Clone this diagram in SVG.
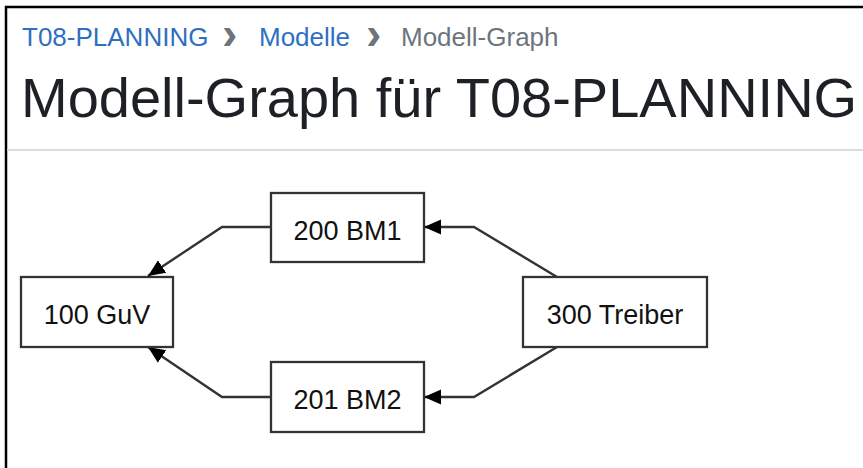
<svg xmlns="http://www.w3.org/2000/svg" width="863" height="468" viewBox="0 0 863 468">
<style>
.node rect{fill:#fff;stroke:#333;stroke-width:2.3}
.node text{font-family:"Liberation Sans",Arial,sans-serif;font-size:27px;fill:#111;text-anchor:middle}
.edge{fill:none;stroke:#333;stroke-width:2.4;marker-end:url(#arr)}
.crumb{font-family:"Liberation Sans",Arial,sans-serif;font-size:26px}
.sep{font-family:"Liberation Sans",Arial,sans-serif;font-size:46px;font-weight:bold;fill:#6c757d}
</style>
<defs>
<marker id="arr" markerUnits="userSpaceOnUse" markerWidth="20" markerHeight="18" viewBox="0 -9 20 18" refX="17" refY="0" orient="auto">
<path d="M17,0 L0,-7.5 L0,7.5 Z" fill="#000"/>
</marker>
</defs>
<rect x="0" y="0" width="863" height="468" fill="#fff"/>
<path d="M6,468 L6,7 L863,7" fill="none" stroke="#000" stroke-width="2.5"/>
<g id="header">
<text class="crumb" x="22" y="46" fill="#2f6fc1">T08-PLANNING</text>
<text class="sep" x="222" y="49">›</text>
<text class="crumb" x="259" y="46" fill="#2f6fc1">Modelle</text>
<text class="sep" x="366" y="49">›</text>
<text class="crumb" x="401" y="46" fill="#6c757d">Modell-Graph</text>
<text x="21" y="117" font-family="'Liberation Sans',Arial,sans-serif" font-size="56" fill="#1d2125">Modell-Graph für T08-PLANNING</text>
<line x1="7" y1="150" x2="863" y2="150" stroke="#dcdcdc" stroke-width="2"/>
</g>
<g id="connectors">
<path class="edge" d="M271,227 L222,227 L148,276"/>
<path class="edge" d="M271,397 L222,397 L148,347"/>
<path class="edge" d="M557,277 L474,227 L424,227"/>
<path class="edge" d="M557,347 L474,397 L424,397"/>
</g>
<g id="n100" class="node"><rect x="21" y="277" width="152" height="70"/><text x="97" y="324">100 GuV</text></g>
<g id="n200" class="node"><rect x="271" y="193" width="153" height="69"/><text x="347.5" y="240">200 BM1</text></g>
<g id="n201" class="node"><rect x="271" y="362" width="153" height="70"/><text x="347.5" y="409">201 BM2</text></g>
<g id="n300" class="node"><rect x="523" y="277" width="184" height="70"/><text x="615" y="324">300 Treiber</text></g>
</svg>
